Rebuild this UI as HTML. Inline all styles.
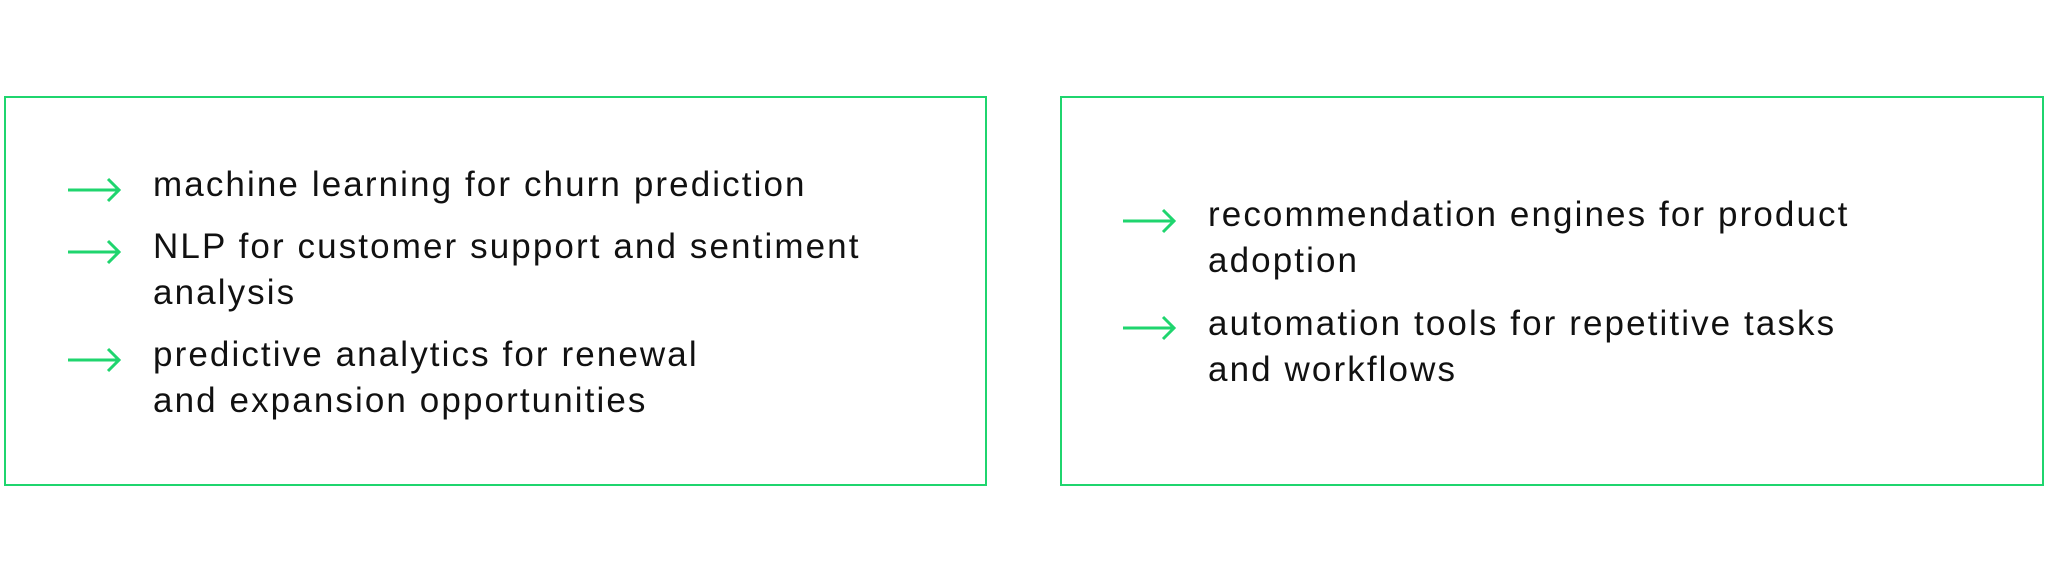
<!DOCTYPE html>
<html><head><meta charset="utf-8"><style>
body{margin:0;width:2048px;height:582px;background:#fff;position:relative;overflow:hidden;font-family:"Liberation Sans",sans-serif;}
.box{position:absolute;border:2px solid #1fd56e;box-sizing:border-box;}
.t{position:absolute;font-size:35px;line-height:46px;color:#111;white-space:nowrap;letter-spacing:2.1px;}
svg{position:absolute;}
</style></head><body>
<div class="box" style="left:4px;top:96px;width:983px;height:390px"></div>
<div class="box" style="left:1060px;top:96px;width:984px;height:390px"></div>
<svg width="60" height="30" style="left:66px;top:175px"><path d="M2 15H52M42 4L53 15L42 26" fill="none" stroke="#1fd56e" stroke-width="3"/></svg>
<svg width="60" height="30" style="left:66px;top:237px"><path d="M2 15H52M42 4L53 15L42 26" fill="none" stroke="#1fd56e" stroke-width="3"/></svg>
<svg width="60" height="30" style="left:66px;top:345px"><path d="M2 15H52M42 4L53 15L42 26" fill="none" stroke="#1fd56e" stroke-width="3"/></svg>
<svg width="60" height="30" style="left:1121px;top:206px"><path d="M2 15H52M42 4L53 15L42 26" fill="none" stroke="#1fd56e" stroke-width="3"/></svg>
<svg width="60" height="30" style="left:1121px;top:313px"><path d="M2 15H52M42 4L53 15L42 26" fill="none" stroke="#1fd56e" stroke-width="3"/></svg>
<div class="t" style="left:153px;top:162px">machine learning for churn prediction</div>
<div class="t" style="left:153px;top:224px">NLP for customer support and sentiment<br>analysis</div>
<div class="t" style="left:153px;top:332px">predictive analytics for renewal<br>and expansion opportunities</div>
<div class="t" style="left:1208px;top:192px">recommendation engines for product<br>adoption</div>
<div class="t" style="left:1208px;top:301px">automation tools for repetitive tasks<br>and workflows</div>
</body></html>
